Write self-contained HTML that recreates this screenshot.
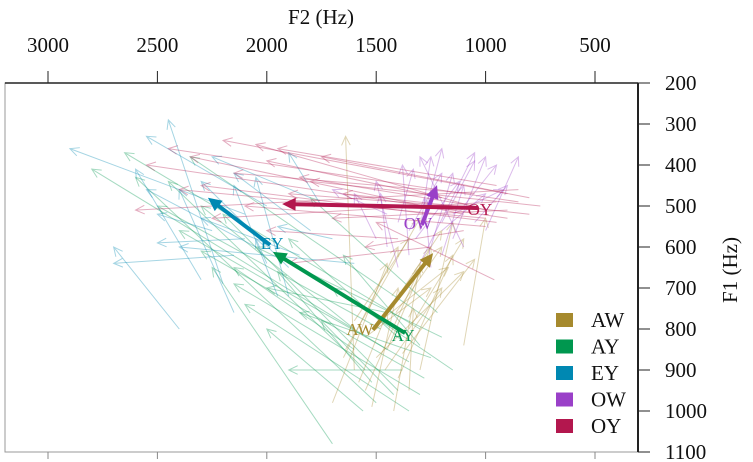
<!DOCTYPE html>
<html><head><meta charset="utf-8"><style>
html,body{margin:0;padding:0;background:#fff;}
svg{display:block;font-family:"Liberation Serif",serif;}
</style></head><body>
<svg id="chart" width="753" height="462" xmlns="http://www.w3.org/2000/svg">
<g id="axes"></g>
<g id="tokens"></g>
<g id="means"></g>
<g id="legend"></g>
</svg>
<script>
const vowels = ["AW","AY","EY","OW","OY"];
const colors = {AW:"#a68a2e",AY:"#00974f",EY:"#0088b2",OW:"#9a40c8",OY:"#b3174e"};
const f2Ticks = [3000,2500,2000,1500,1000,500];
const f1Ticks = [200,300,400,500,600,700,800,900,1000,1100];
// mean trajectories: [startF2,startF1,endF2,endF1]
const meanAW = [1515,802,1240,615];
const meanAY = [1368,810,1972,612];
const meanEY = [1985,595,2269,480];
const meanOW = [1291,546,1222,449];
const meanOY = [1035,505,1930,495];
// token trajectories
const tokAW = [[1600,900,1640,330],[1450,850,1250,600],[1550,950,1300,650],[1500,800,1200,560],[1400,920,1150,620],[1650,870,1400,600],[1350,800,1100,580],[1700,980,1450,640],[1480,780,1170,650],[1420,1000,1300,640],[1550,820,1250,700],[1300,900,1150,540],[1600,780,1350,580],[1380,860,1050,630],[1520,990,1400,700],[1460,900,1200,700],[1100,840,1000,530],[1640,850,1300,530],[1500,870,1100,660],[1350,950,1330,750],[1580,930,1450,760],[1410,760,1200,600]];
const tokAY = [[1450,850,2800,410],[1300,800,2650,370],[1550,900,2450,440],[1250,780,2350,380],[1400,950,2200,520],[1350,880,2400,560],[1500,980,2600,430],[1200,820,2050,600],[1600,850,2150,650],[1380,830,1900,580],[1280,920,2300,610],[1450,760,2000,700],[1350,1000,2100,740],[1520,930,1950,660],[1250,870,1850,760],[1700,1080,2250,650],[1150,900,1700,700],[1420,960,1750,780],[1300,840,1650,620],[1480,800,2500,500],[1560,1000,2000,800],[1220,760,1800,480],[1380,900,1900,900],[1600,800,2300,500],[1300,960,2150,690]];
const tokEY = [[2100,520,2900,360],[2200,690,2450,290],[2000,500,2550,330],[1900,650,2300,440],[2300,680,2600,410],[2150,760,2400,460],[2050,600,2550,460],[1800,560,2150,420],[2100,580,2500,590],[2400,800,2700,600],[1950,720,2150,450],[1700,580,1950,550],[1800,480,2250,380],[2250,560,2500,520],[1900,720,2050,430],[1850,620,2300,530],[2000,640,2050,580],[1750,500,1900,370],[2150,620,2700,640],[1600,640,2400,600]];
const tokOW = [[1300,560,1250,380],[1250,600,1150,420],[1200,540,1050,390],[1350,620,1380,400],[1150,580,1000,380],[1100,500,950,400],[1400,650,1500,440],[1280,520,1200,360],[1450,600,1480,470],[1200,620,1100,450],[1050,540,900,450],[1350,560,1200,420],[1500,580,1600,470],[1250,650,1280,480],[1100,600,1300,380],[1300,640,1050,370],[1150,520,920,460],[1400,540,1330,410],[1200,560,1000,470],[1450,520,1700,460],[1000,560,850,380],[1320,580,1120,440]];
const tokOY = [[900,470,2200,340],[850,490,2450,360],[1000,510,2050,350],[950,450,1950,360],[1100,520,2350,380],[800,480,1750,380],[900,530,2550,400],[1050,470,2150,420],[750,500,1800,440],[950,540,2300,450],[1150,500,1900,470],[850,460,2600,510],[1000,550,2100,500],[900,510,1700,530],[1200,480,2000,390],[1100,560,1550,600],[1000,530,2400,460],[800,520,1650,470],[1250,600,1900,640],[1400,580,2000,560],[950,490,2250,530],[1050,500,1850,430],[960,680,1500,540]];

const NS="http://www.w3.org/2000/svg";
const L=5,R=638,T=83,B=452;
function xs(f2){return 48+(3000-f2)*(547/2500);}
function ys(f1){return T+(f1-200)*(369/900);}
function mk(tag,attrs,parent){const e=document.createElementNS(NS,tag);for(const k in attrs)e.setAttribute(k,attrs[k]);parent.appendChild(e);return e;}

const axes=document.getElementById('axes');
const frame=mk('rect',{x:L,y:T,width:R-L,height:B-T,fill:'none',stroke:'#999','stroke-width':1},axes);


const ra=mk('line',{x1:R,y1:T,x2:R,y2:B,stroke:'#222','stroke-width':2},axes);


const ta=mk('line',{x1:L,y1:T,x2:R,y2:T,stroke:'#222','stroke-width':1.5},axes);


f2Ticks.forEach(v=>{
  const x=xs(v);
  const t=mk('line',{x1:x,y1:T,x2:x,y2:T-12,stroke:'#222'},axes);
  
  
  const b=mk('line',{x1:x,y1:B,x2:x,y2:B+7,stroke:'#888'},axes);
  
  
  const lb=mk('text',{x:x,y:52,'font-size':21,'text-anchor':'middle',fill:'#111'},axes);
  lb.textContent=v;
  
  
});
f1Ticks.forEach(v=>{
  const y=ys(v);
  const t=mk('line',{x1:R,y1:y,x2:R+12,y2:y,stroke:'#222'},axes);
  
  
  const lb=mk('text',{x:665,y:y+7,'font-size':21,fill:'#111'},axes);
  lb.textContent=v;
  
  
});
const xt=mk('text',{x:321,y:24,'font-size':21,'text-anchor':'middle',fill:'#111'},axes);
xt.textContent='F2 (Hz)';


const yt=mk('text',{x:0,y:0,'font-size':21,'text-anchor':'middle',fill:'#111',transform:'translate(737,270) rotate(-90)'},axes);
yt.textContent='F1 (Hz)';



function arrow(parent,d,color,w,op,head,filled){
  const x1=xs(d[0]),y1=ys(d[1]),x2=xs(d[2]),y2=ys(d[3]);
  const g=mk('g',{opacity:op},parent);
  const a=Math.atan2(y2-y1,x2-x1);
  const hx1=x2-head*Math.cos(a-0.45),hy1=y2-head*Math.sin(a-0.45);
  const hx2=x2-head*Math.cos(a+0.45),hy2=y2-head*Math.sin(a+0.45);
  if(filled){
    const ex=x2-head*0.8*Math.cos(a),ey=y2-head*0.8*Math.sin(a);
    mk('line',{x1:x1,y1:y1,x2:ex,y2:ey,stroke:color,'stroke-width':w},g);
    mk('polygon',{points:`${x2},${y2} ${hx1},${hy1} ${hx2},${hy2}`,fill:color},g);
  } else {
    mk('line',{x1:x1,y1:y1,x2:x2,y2:y2,stroke:color,'stroke-width':w},g);
    mk('polyline',{points:`${hx1},${hy1} ${x2},${y2} ${hx2},${hy2}`,fill:'none',stroke:color,'stroke-width':w},g);
  }
  return g;
}
const tokSets={AW:tokAW,AY:tokAY,EY:tokEY,OW:tokOW,OY:tokOY};
const tg=document.getElementById('tokens');
["AY","EY","AW","OW","OY"].forEach(v=>{
  tokSets[v].forEach(d=>{
    const g=arrow(tg,d,colors[v],1,0.35,10,false);
    
    
  });
});
const meanSets={AW:meanAW,AY:meanAY,EY:meanEY,OW:meanOW,OY:meanOY};
const mg=document.getElementById('means');
const labOff={AW:[-13,5],AY:[-2,8],EY:[2,4],OW:[-4,4],OY:[2,7]};
vowels.forEach(v=>{
  const d=meanSets[v];
  const g=arrow(mg,d,colors[v],4,1,15,true);
  
  
  const t=mk('text',{x:xs(d[0])+labOff[v][0],y:ys(d[1])+labOff[v][1],'font-size':17,'text-anchor':'middle',fill:colors[v]},mg);
  t.textContent=v;
  
  
});
const lg=document.getElementById('legend');
vowels.forEach((v,i)=>{
  const cy=320+i*26.5;
  const g=mk('g',{},lg);
  
  
  mk('rect',{x:556,y:cy-7,width:17,height:14,fill:colors[v]},g);
  const t=mk('text',{x:591,y:cy+7,'font-size':21,fill:'#111'},g);
  t.textContent=v;
});
</script>
</body></html>
